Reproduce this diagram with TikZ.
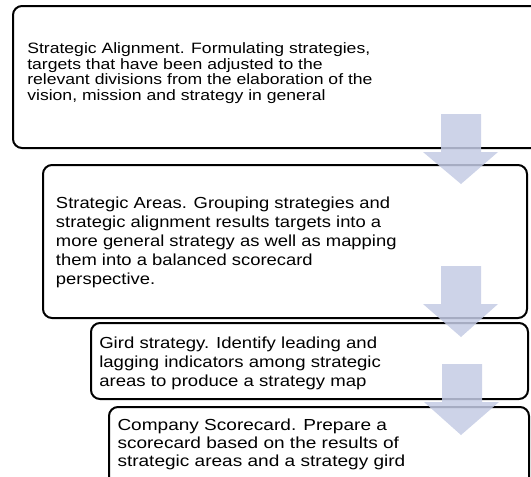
\documentclass[tikz,border=0pt]{standalone}
\usepackage{fontspec}
\setmainfont{Liberation Sans}
\usepackage{graphicx}
\definecolor{arrowcol}{RGB}{196,203,228}
\newcommand{\stx}[4]{\scalebox{#1}[1]{\parbox[t]{400pt}{\fontsize{#2}{#3}\selectfont\lineskiplimit=-20pt\raggedright #4}}}
\tikzset{
  box/.style={draw=black, line width=2pt, rounded corners=9pt, rectangle, inner sep=0pt, outer sep=0pt, anchor=north west},
  txt/.style={inner sep=0pt, outer sep=0pt, anchor=base west},
  blockarrow/.style={fill=arrowcol, fill opacity=0.85}
}
\begin{document}
\begin{tikzpicture}[x=1pt,y=-1pt]
\useasboundingbox (0,0) rectangle (531,477);
\clip (0,0) rectangle (531,477);
% boxes
\node[box, minimum width=560pt, minimum height=142pt] (b1) at (13,6) {};
\node[box, minimum width=484pt, minimum height=153pt] (b2) at (43,165) {};
\node[box, minimum width=437pt, minimum height=76pt] (b3) at (91,323) {};
\node[box, minimum width=420pt, minimum height=120pt] (b4) at (109,407) {};
% texts
\node[txt] (t1) at (27.3,53.5) {\stx{1.173}{15}{15.6}{Strategic Alignment. Formulating strategies,\\targets that have been adjusted to the\\relevant divisions from the elaboration of the\\vision, mission and strategy in general}};
\node[txt] (t2) at (56,208.3) {\stx{1.15}{16}{19}{Strategic Areas. Grouping strategies and\\strategic alignment results targets into a\\more general strategy as well as mapping\\them into a balanced scorecard\\perspective.}};
\node[txt] (t3) at (99.3,348.3) {\stx{1.16}{16}{19}{Gird strategy. Identify leading and\\lagging indicators among strategic\\areas to produce a strategy map}};
\node[txt] (t4) at (117.5,430) {\stx{1.19}{16}{18.3}{Company Scorecard. Prepare a\\scorecard based on the results of\\strategic areas and a strategy gird}};
% block arrows
\fill[blockarrow] (441,114) -- (481,114) -- (481,152) -- (498,152) -- (461,184) -- (423,152) -- (441,152) -- cycle;
\fill[blockarrow] (441,266) -- (481,266) -- (481,304) -- (498,304) -- (461,337) -- (423,304) -- (441,304) -- cycle;
\fill[blockarrow] (442,364) -- (482,364) -- (482,402) -- (499,402) -- (461,435) -- (424,402) -- (442,402) -- cycle;
\end{tikzpicture}
\end{document}
